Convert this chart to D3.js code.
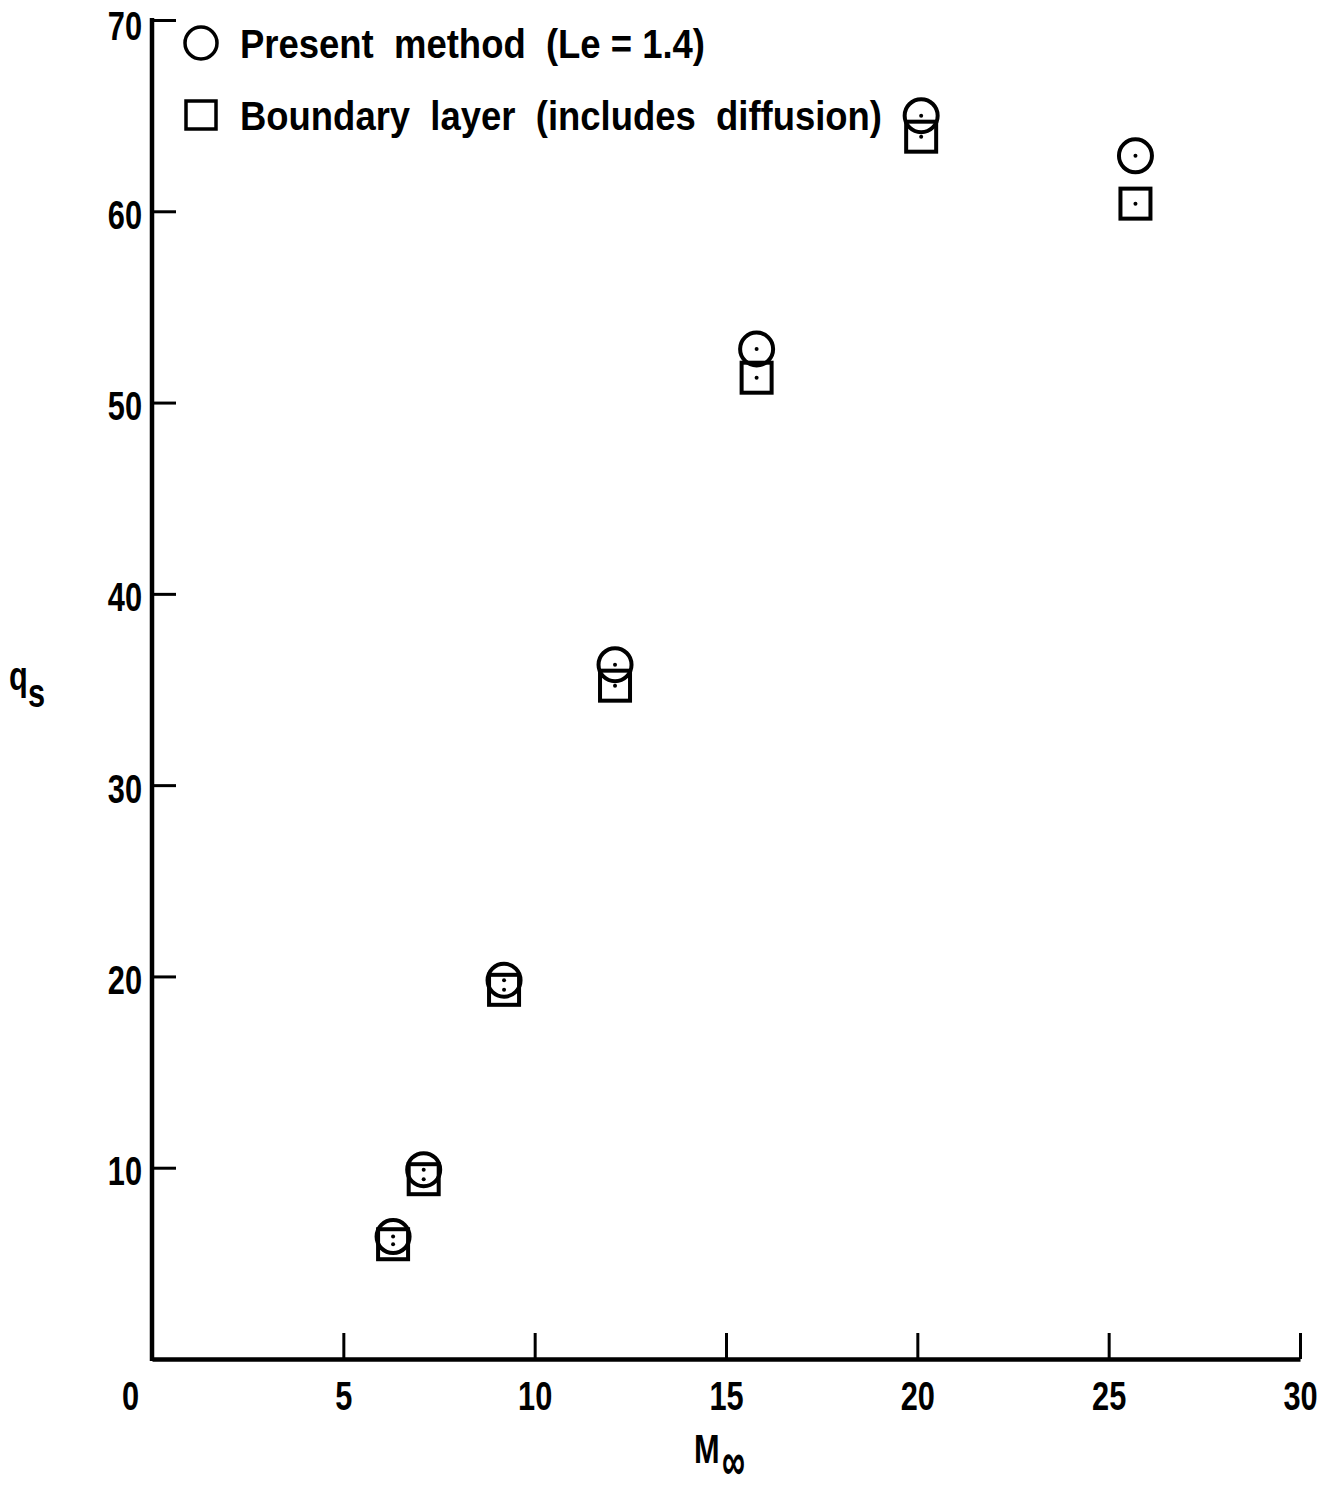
<!DOCTYPE html>
<html>
<head>
<meta charset="utf-8">
<script src="https://cdn.jsdelivr.net/npm/d3@7"></script>
<style>
  body { margin: 0; background: #fff; }
  text { font-family: "Liberation Sans", Arial, sans-serif; font-weight: bold; fill: #000; }
</style>
</head>
<body>
<div id="container"></div>
<script>
// data
const machPresent = [6.3, 7.1, 9.2, 12.1, 15.8, 20.1, 25.7];
const qPresent = [6.4, 9.9, 19.8, 36.3, 52.8, 65.0, 62.9];
const machBL = [6.3, 7.1, 9.2, 12.1, 15.8, 20.1, 25.7];
const qBL = [6.0, 9.4, 19.3, 35.2, 51.3, 63.9, 60.4];
const xTicks = [0, 5, 10, 15, 20, 25, 30];
const yTicks = [10, 20, 30, 40, 50, 60, 70];
const legendLabels = ["Present  method  (Le = 1.4)", "Boundary  layer  (includes  diffusion)"];

const w = 1327, h = 1493;
const x0 = 152, x1 = 1300, yBot = 1359, yTop = 20;
const sx = 0.75; // horizontal squeeze for the condensed lettering

const xScale = d3.scaleLinear().domain([0, 30]).range([x0, x1]);
const yScale = d3.scaleLinear().domain([0, 70]).range([yBot, yTop]);

const svg = d3.select("#container").append("svg")
  .attr("width", w).attr("height", h);

// x axis, ticks pointing up
const xAxis = d3.axisBottom(xScale).tickValues(xTicks).tickSizeInner(-26).tickSizeOuter(0).tickPadding(0);
const gx = svg.append("g").attr("transform", "translate(0," + yBot + ")").call(xAxis);
gx.select(".domain").attr("stroke-width", 4.5).attr("stroke", "#000");
gx.selectAll(".tick line").attr("stroke-width", 3).attr("stroke", "#000")
  .filter(d => d === 0).remove();
gx.selectAll(".tick text").attr("font-size", 41).attr("y", 51).attr("dy", 0)
  .attr("transform", "scale(" + sx + ",1)");
gx.selectAll(".tick").filter(d => d === 0).select("text").attr("x", -22 / sx);

// y axis, ticks pointing right
const yAxis = d3.axisLeft(yScale).tickValues(yTicks).tickSizeInner(-24).tickSizeOuter(0).tickPadding(0);
const gy = svg.append("g").attr("transform", "translate(" + x0 + ",0)").call(yAxis);
gy.select(".domain").attr("stroke-width", 4.5).attr("stroke", "#000")
  .attr("d", "M0," + (yBot + 2) + "V" + (yTop - 2));
gy.selectAll(".tick line").attr("stroke-width", 3).attr("stroke", "#000");
gy.selectAll(".tick text").attr("font-size", 41).attr("dy", 0).attr("y", 17)
  .attr("x", -10 / sx).attr("transform", "scale(" + sx + ",1)");
gy.selectAll(".tick").filter(d => d === 70).select("text").attr("y", 19);

// axis titles
svg.append("text").attr("font-size", 41)
  .attr("transform", "translate(9,690) scale(" + sx + ",1)").text("q");
svg.append("text").attr("font-size", 41)
  .attr("transform", "translate(28,707) scale(" + sx + ",1)").text("s");
svg.append("text").attr("font-size", 41)
  .attr("transform", "translate(694,1463) scale(" + sx + ",1)").text("M");
svg.append("text").attr("font-size", 52).attr("font-weight", "normal")
  .attr("transform", "translate(722,1480) scale(0.62,1.05)").text("\u221E");

// markers
const plot = svg.append("g");
const present = machPresent.map((m, i) => ({ m: m, q: qPresent[i] }));
const bl = machBL.map((m, i) => ({ m: m, q: qBL[i] }));

plot.selectAll("rect.bl").data(bl).enter().append("rect")
  .attr("class", "bl")
  .attr("x", d => xScale(d.m) - 15).attr("y", d => yScale(d.q) - 15)
  .attr("width", 30).attr("height", 30)
  .attr("fill", "none").attr("stroke", "#000").attr("stroke-width", 4);

plot.selectAll("circle.pm").data(present).enter().append("circle")
  .attr("class", "pm")
  .attr("cx", d => xScale(d.m)).attr("cy", d => yScale(d.q)).attr("r", 16.5)
  .attr("fill", "none").attr("stroke", "#000").attr("stroke-width", 4);

plot.selectAll("circle.dot").data(present.concat(bl)).enter().append("circle")
  .attr("class", "dot")
  .attr("cx", d => xScale(d.m)).attr("cy", d => yScale(d.q)).attr("r", 2)
  .attr("fill", "#000");

// legend
const leg = svg.append("g");
leg.append("circle").attr("cx", 201).attr("cy", 43).attr("r", 16)
  .attr("fill", "none").attr("stroke", "#000").attr("stroke-width", 3.5);
leg.append("rect").attr("x", 186).attr("y", 101).attr("width", 30).attr("height", 28)
  .attr("fill", "none").attr("stroke", "#000").attr("stroke-width", 3.5);
const legWidths = [465, 642];
leg.selectAll("text").data(legendLabels).enter().append("text")
  .attr("x", 240).attr("y", (d, i) => 58 + i * 72)
  .attr("font-size", 41)
  .attr("textLength", (d, i) => legWidths[i])
  .attr("lengthAdjust", "spacingAndGlyphs")
  .style("white-space", "pre")
  .text(d => d);
</script>
</body>
</html>
